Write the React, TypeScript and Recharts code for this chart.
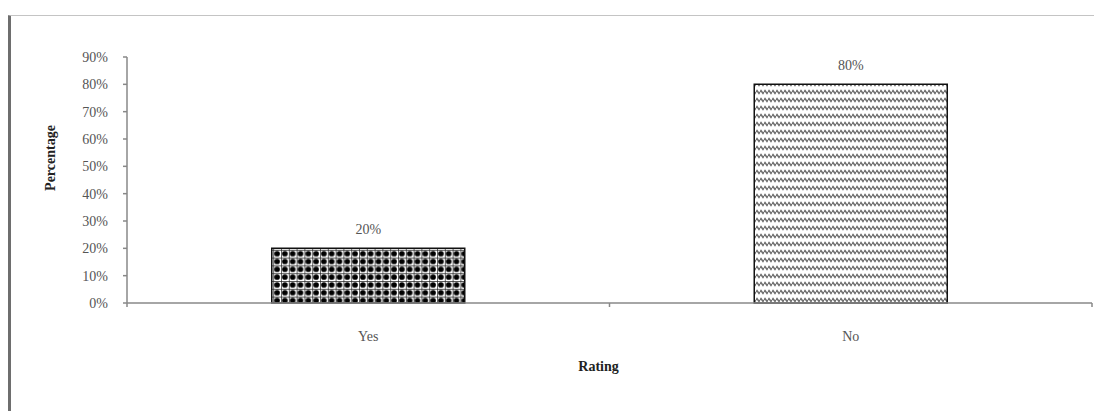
import React from 'react';
import { BarChart, Bar, XAxis, YAxis, Cell, LabelList } from 'recharts';

// Survey result: share of respondents per rating answer
const categories = ['Yes', 'No'];
const percentages = [20, 80];
const yTicks = [0, 10, 20, 30, 40, 50, 60, 70, 80, 90];
const barFills = ['url(#dotGrid)', 'url(#waveLines)'];

const data = categories.map((rating, i) => ({ rating, value: percentages[i] }));

const W = 1094;
const H = 403;
const MARGIN = { top: 49, right: 10, bottom: 38, left: 0 };
const Y_AXIS_W = 119;
const TICK_SIZE = 4;
const TICK_MARGIN = 24;
const SERIF = '"Liberation Serif", "Times New Roman", serif';

const bandWidth = (W - MARGIN.left - MARGIN.right - Y_AXIS_W) / categories.length;

// Category label centred under each bar, with tick marks at the band edges
const CategoryTick = (props: any) => {
  const { x, y, payload, index } = props;
  const axisY = y - TICK_SIZE - TICK_MARGIN;
  const left = x - bandWidth / 2;
  const right = x + bandWidth / 2;
  return (
    <g>
      <line x1={left} x2={left} y1={axisY} y2={axisY + TICK_SIZE} stroke="#888" strokeWidth={1.5} />
      {index === categories.length - 1 && (
        <line x1={right} x2={right} y1={axisY} y2={axisY + TICK_SIZE} stroke="#888" strokeWidth={1.5} />
      )}
      <text x={x} y={y} dy="0.71em" textAnchor="middle" fontFamily={SERIF} fontSize={14} fill="#555">
        {payload.value}
      </text>
    </g>
  );
};

const PercentLabel = () => (
  <text
    x={42}
    y={150}
    transform="rotate(-90, 42, 150)"
    textAnchor="middle"
    dominantBaseline="central"
    fontFamily={SERIF}
    fontWeight="bold"
    fontSize={14}
    fill="#222"
  >
    Percentage
  </text>
);

export default function App() {
  return (
    <div style={{ position: 'relative', width: W, height: H }}>
      <div
        style={{
          position: 'absolute',
          top: 7,
          left: -1,
          width: W + 1,
          height: H - 7,
          borderTop: '1px solid #c4c4c4',
          borderLeft: '4px solid #6e6e6e',
          boxSizing: 'border-box',
        }}
      />
      <svg width={0} height={0} style={{ position: 'absolute' }}>
        <defs>
          <pattern id="dotGrid" width={7.8} height={7.8} patternUnits="userSpaceOnUse">
            <rect width={7.8} height={7.8} fill="#fff" />
            <path d="M0 0H7.8M0 0V7.8" stroke="#222" strokeWidth={1.4} />
            <circle cx={3.9} cy={3.9} r={2.8} fill="#000" />
          </pattern>
          <pattern id="waveLines" width={4} height={8} patternUnits="userSpaceOnUse">
            <rect width={4} height={8} fill="#fff" />
            <path d="M0 4 L1 2.5 L2 4 L3 5.5 L4 4" fill="none" stroke="#6f6f6f" strokeWidth={1.5} />
          </pattern>
        </defs>
      </svg>
      <div style={{ position: 'absolute', top: 0, left: 0 }}>
        <BarChart width={W} height={H} data={data} margin={MARGIN} barCategoryGap="30%">
          <XAxis
            dataKey="rating"
            height={70}
            axisLine={{ stroke: '#888', strokeWidth: 1.5 }}
            tickLine={false}
            tickSize={TICK_SIZE}
            tickMargin={TICK_MARGIN}
            tick={<CategoryTick />}
            label={{
              value: 'Rating',
              position: 'insideBottom',
              offset: 2,
              dx: -11,
              fontFamily: SERIF,
              fontWeight: 'bold',
              fontSize: 14,
              fill: '#222',
            }}
          />
          <YAxis
            width={Y_AXIS_W}
            domain={[0, 90]}
            ticks={yTicks}
            interval={0}
            tickFormatter={(v: number) => `${v}%`}
            axisLine={{ stroke: '#888', strokeWidth: 1.5 }}
            tickLine={{ stroke: '#888', strokeWidth: 1.5 }}
            tickSize={TICK_SIZE}
            tickMargin={15}
            tick={{ fontFamily: SERIF, fontSize: 14, fill: '#555' }}
            label={<PercentLabel />}
          />
          <Bar dataKey="value" stroke="#111" strokeWidth={1.5} isAnimationActive={false}>
            {data.map((d, i) => (
              <Cell key={d.rating} fill={barFills[i]} />
            ))}
            <LabelList
              dataKey="value"
              position="top"
              offset={14}
              formatter={(v: number) => `${v}%`}
              style={{ fontFamily: SERIF, fontSize: 14, fill: '#555' }}
            />
          </Bar>
        </BarChart>
      </div>
    </div>
  );
}
